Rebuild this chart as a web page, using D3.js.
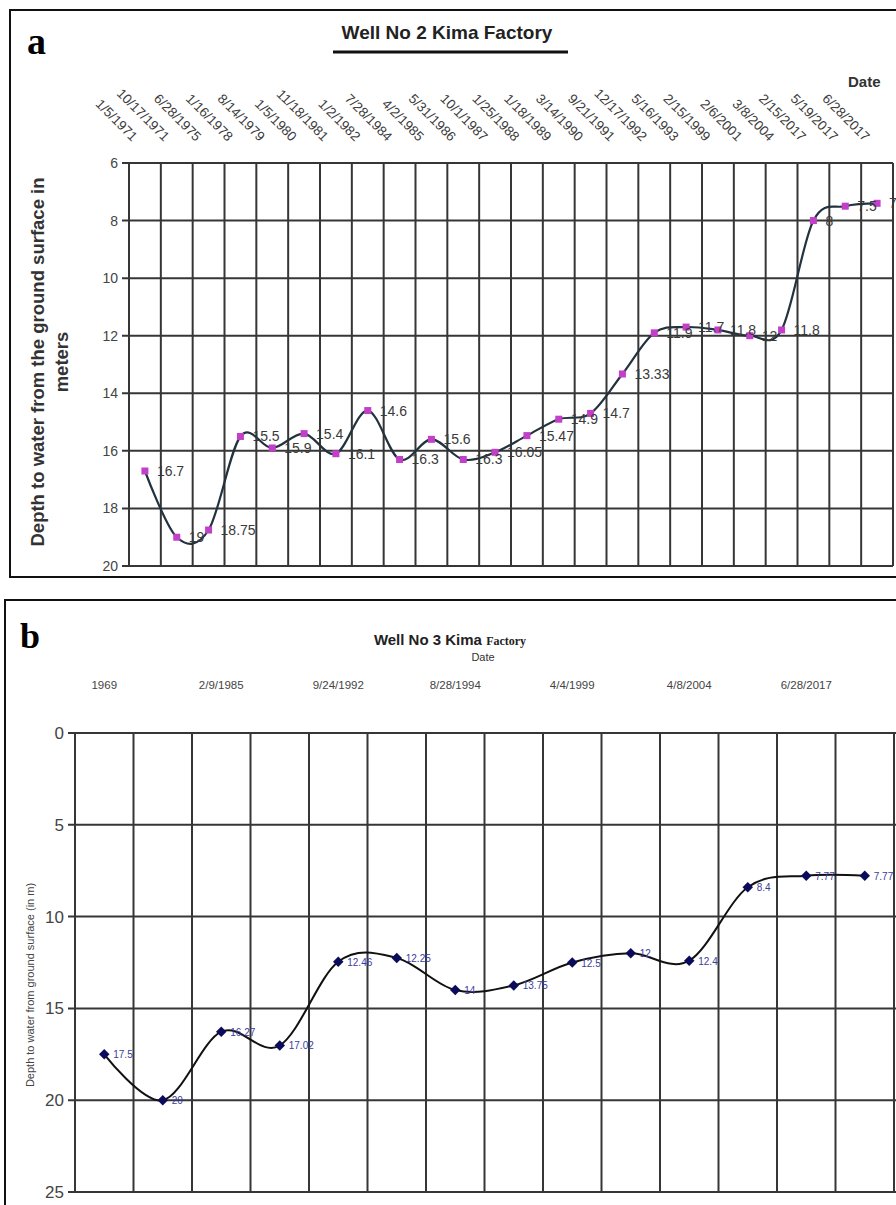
<!DOCTYPE html>
<html>
<head>
<meta charset="utf-8">
<script src="https://cdn.jsdelivr.net/npm/d3@7"></script>
<style>
  html, body { margin: 0; padding: 0; background: #fff; }
  svg { display: block; }
  text { font-family: Arial, "Liberation Sans", sans-serif; }
</style>
</head>
<body>
<svg id="chart" width="896" height="1205"></svg>
<script>
// ---------- Panel a : Well No 2 ----------
const well2Dates = ["1/5/1971","10/17/1971","6/28/1975","1/16/1978","8/14/1979","1/5/1980",
  "11/18/1981","1/2/1982","7/28/1984","4/2/1985","5/31/1986","10/1/1987","1/25/1988",
  "1/18/1989","3/14/1990","9/21/1991","12/17/1992","5/16/1993","2/15/1999","2/6/2001",
  "3/8/2004","2/15/2017","5/19/2017","6/28/2017"];
const well2Depth = [16.7, 19, 18.75, 15.5, 15.9, 15.4, 16.1, 14.6, 16.3, 15.6, 16.3, 16.05,
  15.47, 14.9, 14.7, 13.33, 11.9, 11.7, 11.8, 12, 11.8, 8, 7.5, 7.4];
const well2YTicks = [6, 8, 10, 12, 14, 16, 18, 20];

// ---------- Panel b : Well No 3 ----------
const well3Categories = ["c0","c1","c2","c3","c4","c5","c6","c7","c8","c9","c10","c11","c12","c13"];
const well3TickLabels = ["1969", "2/9/1985", "9/24/1992", "8/28/1994", "4/4/1999", "4/8/2004", "6/28/2017"];
const well3Depth = [17.5, 20, 16.27, 17.02, 12.46, 12.25, 14, 13.75, 12.5, 12, 12.4, 8.4, 7.77, 7.77];
const well3YTicks = [0, 5, 10, 15, 20, 25];

const svg = d3.select("#chart");
const grid = "#363636";

// ================= PANEL A =================
svg.append("rect").attr("x", 10).attr("y", 10).attr("width", 900).attr("height", 567)
  .attr("fill", "none").attr("stroke", "#111").attr("stroke-width", 2);

svg.append("text").attr("x", 27).attr("y", 54)
  .style("font-family", "'Liberation Serif', 'DejaVu Serif', serif")
  .style("font-weight", "bold").style("font-size", "38px").text("a");

svg.append("text").attr("x", 447).attr("y", 39).attr("text-anchor", "middle")
  .style("font-weight", "bold").style("font-size", "19px").attr("fill", "#222")
  .text("Well No 2 Kima Factory");
svg.append("line").attr("x1", 333).attr("x2", 568).attr("y1", 52).attr("y2", 52)
  .attr("stroke", "#111").attr("stroke-width", 3);

svg.append("text").attr("x", 848).attr("y", 87)
  .style("font-weight", "bold").style("font-size", "15px").attr("fill", "#333").text("Date");

const ax = d3.scaleBand().domain(d3.range(well2Dates.length)).range([129, 893]).padding(0);
const ay = d3.scaleLinear().domain([6, 20]).range([163, 566]);
const aw = ax.bandwidth();

const ga = svg.append("g");
ga.selectAll("line.h").data(well2YTicks).join("line")
  .attr("x1", 122).attr("x2", 893).attr("y1", d => ay(d)).attr("y2", d => ay(d))
  .attr("stroke", grid).attr("stroke-width", 2);
ga.selectAll("line.v").data(d3.range(well2Dates.length + 1)).join("line")
  .attr("x1", i => 129 + i * aw).attr("x2", i => 129 + i * aw)
  .attr("y1", 163).attr("y2", 566)
  .attr("stroke", grid).attr("stroke-width", 2);

ga.selectAll("text.yt").data(well2YTicks).join("text")
  .attr("x", 118).attr("y", d => ay(d) + 5).attr("text-anchor", "end")
  .style("font-size", "14px").attr("fill", "#444").text(d => d);

ga.selectAll("text.dt").data(well2Dates).join("text")
  .attr("text-anchor", "end")
  .attr("transform", (d, i) => `translate(${ax(i) + aw / 2 - 13},${142}) rotate(45)`)
  .style("font-size", "13.5px").attr("fill", "#3c3c3c").text(d => d);

const yta = svg.append("g").attr("transform", "translate(0,362) rotate(-90)");
yta.append("text").attr("x", 0).attr("y", 44).attr("text-anchor", "middle")
  .style("font-weight", "bold").style("font-size", "18.5px").attr("fill", "#333")
  .text("Depth to water from the ground surface in");
yta.append("text").attr("x", 0).attr("y", 68).attr("text-anchor", "middle")
  .style("font-weight", "bold").style("font-size", "18.5px").attr("fill", "#333")
  .text("meters");

const lineA = d3.line().x((d, i) => ax(i) + aw / 2).y(d => ay(d)).curve(d3.curveCardinal.tension(0));
ga.append("path").datum(well2Depth).attr("d", lineA)
  .attr("fill", "none").attr("stroke", "#22323e").attr("stroke-width", 2.2);
ga.selectAll("rect.m").data(well2Depth).join("rect")
  .attr("x", (d, i) => ax(i) + aw / 2 - 3.5).attr("y", d => ay(d) - 3.5)
  .attr("width", 7).attr("height", 7).attr("fill", "#c23fc9");
ga.selectAll("text.dl").data(well2Depth).join("text")
  .attr("x", (d, i) => ax(i) + aw / 2 + 12).attr("y", d => ay(d) + 5)
  .style("font-size", "14px").attr("fill", "#3a3a3a").text(d => d);

// ================= PANEL B =================
svg.append("rect").attr("x", 5).attr("y", 600).attr("width", 900).attr("height", 640)
  .attr("fill", "none").attr("stroke", "#111").attr("stroke-width", 2);

svg.append("text").attr("x", 20).attr("y", 648)
  .style("font-family", "'Liberation Serif', 'DejaVu Serif', serif")
  .style("font-weight", "bold").style("font-size", "36px").text("b");

const tb = svg.append("text").attr("x", 450).attr("y", 645).attr("text-anchor", "middle").attr("fill", "#222");
tb.append("tspan").style("font-weight", "bold").style("font-size", "15px").text("Well No 3 Kima ");
tb.append("tspan").style("font-family", "'Liberation Serif', serif").style("font-weight", "bold")
  .style("font-size", "12px").text("Factory");

svg.append("text").attr("x", 483).attr("y", 661).attr("text-anchor", "middle")
  .style("font-size", "11px").attr("fill", "#333").text("Date");

const bx = d3.scaleBand().domain(well3Categories).range([75, 894]).padding(0);
const by = d3.scaleLinear().domain([0, 25]).range([733, 1192]);
const bw = bx.bandwidth();

const gb = svg.append("g");
gb.selectAll("line.h").data(well3YTicks).join("line")
  .attr("x1", 68).attr("x2", 896).attr("y1", d => by(d)).attr("y2", d => by(d))
  .attr("stroke", grid).attr("stroke-width", 2);
gb.selectAll("line.v").data(d3.range(well3Categories.length + 1)).join("line")
  .attr("x1", i => 75 + i * bw).attr("x2", i => 75 + i * bw)
  .attr("y1", 733).attr("y2", 1192)
  .attr("stroke", grid).attr("stroke-width", 2);

gb.selectAll("text.yt").data(well3YTicks).join("text")
  .attr("x", 64).attr("y", d => by(d) + 6).attr("text-anchor", "end")
  .style("font-size", "17px").attr("fill", "#444").text(d => d);

gb.selectAll("text.dt").data(well3TickLabels).join("text")
  .attr("x", (d, i) => bx(well3Categories[i * 2]) + bw / 2).attr("y", 689)
  .attr("text-anchor", "middle").style("font-size", "11.5px").attr("fill", "#444").text(d => d);

svg.append("text").attr("transform", "translate(34,985) rotate(-90)").attr("text-anchor", "middle")
  .style("font-size", "11px").attr("fill", "#444")
  .text("Depth to water from ground surface (in m)");

const lineB = d3.line().x((d, i) => bx(well3Categories[i]) + bw / 2).y(d => by(d))
  .curve(d3.curveCardinal.tension(0));
gb.append("path").datum(well3Depth).attr("d", lineB)
  .attr("fill", "none").attr("stroke", "#111").attr("stroke-width", 2);
gb.selectAll("path.m").data(well3Depth).join("path")
  .attr("transform", (d, i) => `translate(${bx(well3Categories[i]) + bw / 2},${by(d)})`)
  .attr("d", d3.symbol().type(d3.symbolDiamond2).size(70))
  .attr("fill", "#0b0b5c");
gb.selectAll("text.dl").data(well3Depth).join("text")
  .attr("x", (d, i) => bx(well3Categories[i]) + bw / 2 + 9).attr("y", d => by(d) + 4)
  .style("font-size", "10px").attr("fill", "#3b3b9e").text(d => d);
</script>
</body>
</html>
